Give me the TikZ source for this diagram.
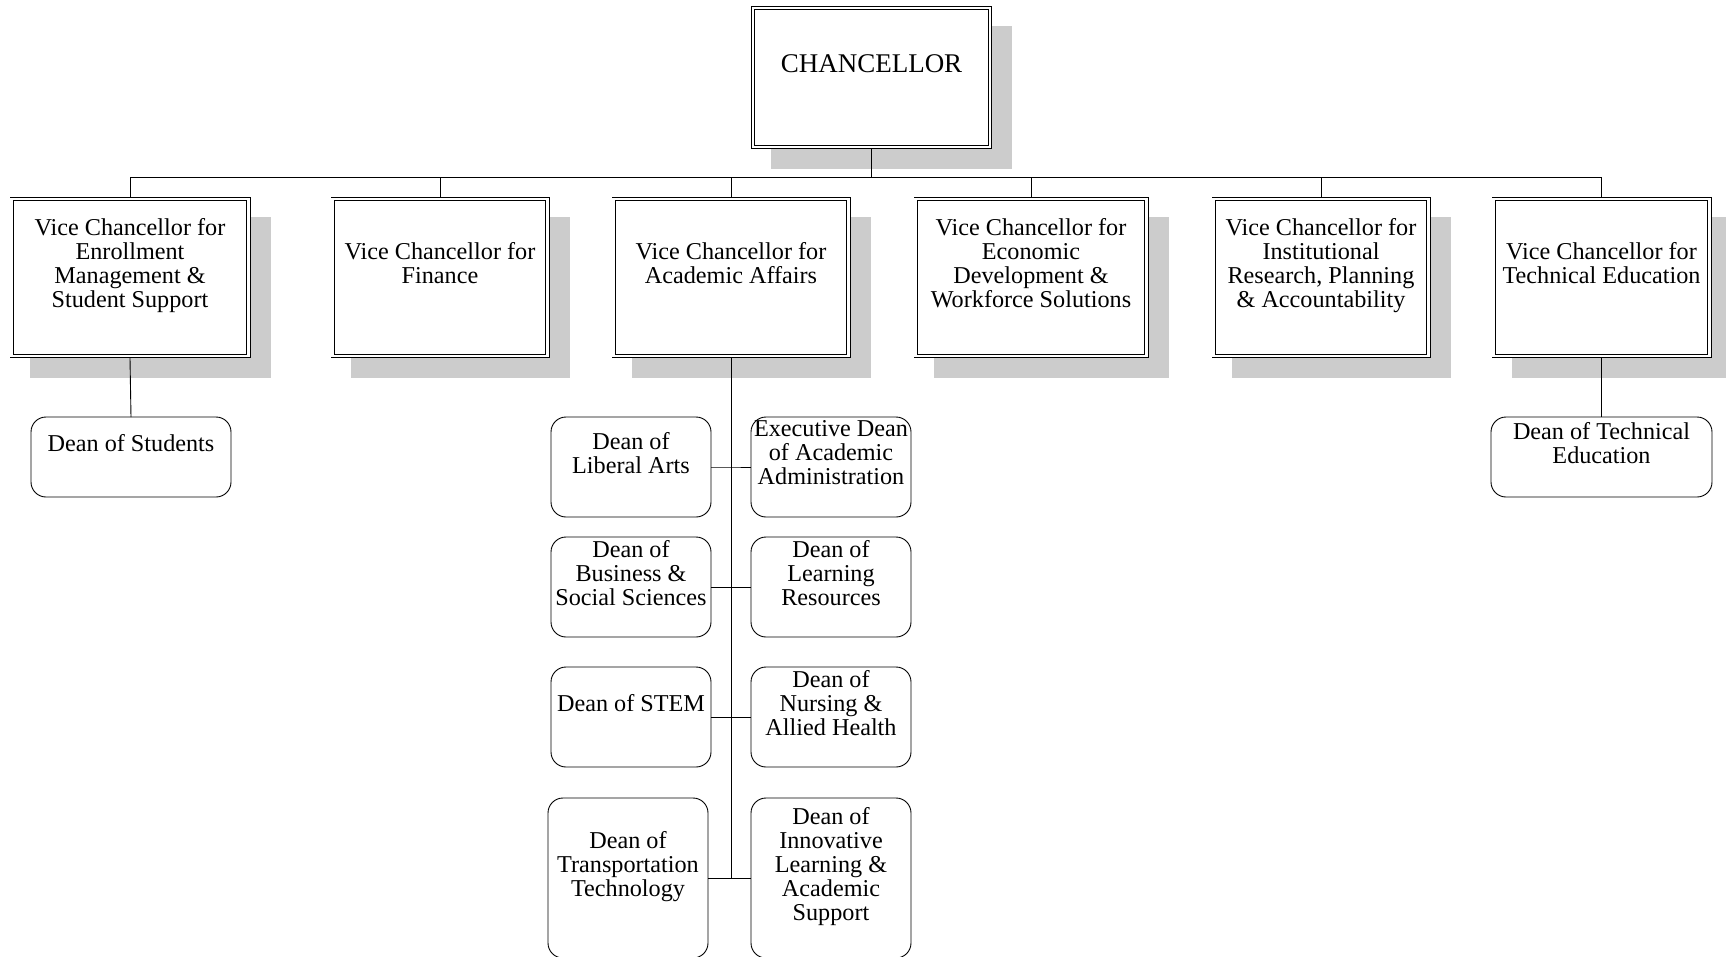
\documentclass[tikz,border=0pt]{standalone}
\usepackage{fontspec}
\setmainfont{Liberation Serif}
\usetikzlibrary{calc}
\definecolor{shadowgray}{gray}{0.8}
\tikzset{
  conn/.style={draw=black, line width=0.9pt},
  shadowrect/.style={rectangle, fill=shadowgray, draw=none, inner sep=0pt, outer sep=0pt},
  dblbox/.style={rectangle, draw=black, line width=0.8pt, double=white, double distance=2.6pt, fill=white, inner sep=0pt, outer sep=2.1pt},
  deanbox/.style={rectangle, rounded corners=15pt, draw=black, line width=0.9pt, fill=white, inner sep=0pt, outer sep=0pt},
  boxtext/.style={align=center, inner sep=0pt, font=\fontsize{24.2}{24}\selectfont, execute at begin node=\strut, execute at end node=\strut},
  chantext/.style={boxtext, font=\fontsize{27}{27}\selectfont},
}
% #1 name, #2 x, #3 y, #4 width, #5 height, #6 text style, #7 text
\newcommand\myvcbox[7]{%
  \node[shadowrect, minimum width=#4pt, minimum height=#5pt] (#1s) at (#2+20,#3+20) {};
  \node[dblbox, minimum width=#4pt-4.2pt, minimum height=#5pt-4.2pt] (#1) at (#2,#3) {};
  \node[#6] (#1t) at ([yshift=10.8pt]#1.center) {#7};
}
% #1 name, #2 x, #3 y, #4 width, #5 height, #6 text
\newcommand\mydean[6]{%
  \node[deanbox, minimum width=#4pt, minimum height=#5pt] (#1) at (#2,#3) {};
  \node[boxtext] (#1t) at ([yshift=10.8pt]#1.center) {#6};
}
\begin{document}
\begin{tikzpicture}[x=1pt,y=-1pt]
\path[use as bounding box, clip] (0,0) rectangle (1726,956);

\myvcbox{chan}{871.5}{77.5}{241}{143}{chantext}{CHANCELLOR}
\myvcbox{vc1}{130}{277.5}{241}{161}{boxtext}{Vice Chancellor for\\Enrollment\\Management \&\\Student Support}
\myvcbox{vc2}{440}{277.5}{219}{161}{boxtext}{Vice Chancellor for\\Finance}
\myvcbox{vc3}{731}{277.5}{239}{161}{boxtext}{Vice Chancellor for\\Academic Affairs}
\myvcbox{vc4}{1031}{277.5}{235}{161}{boxtext}{Vice Chancellor for\\Economic\\Development \&\\Workforce Solutions}
\myvcbox{vc5}{1321}{277.5}{219}{161}{boxtext}{Vice Chancellor for\\Institutional\\Research, Planning\\\& Accountability}
\myvcbox{vc6}{1601.5}{277.5}{220}{161}{boxtext}{Vice Chancellor for\\Technical Education}

\mydean{dos}{131}{457}{200}{80}{Dean of Students}
\mydean{dte}{1601.5}{457}{221}{80}{Dean of Technical\\Education}

\mydean{ld1}{631}{467}{160}{100}{Dean of\\Liberal Arts}
\mydean{rd1}{831}{467}{160}{100}{Executive Dean\\of Academic\\Administration}
\mydean{ld2}{631}{587}{160}{100}{Dean of\\Business \&\\Social Sciences}
\mydean{rd2}{831}{587}{160}{100}{Dean of\\Learning\\Resources}
\mydean{ld3}{631}{717}{160}{100}{Dean of STEM}
\mydean{rd3}{831}{717}{160}{100}{Dean of\\Nursing \&\\Allied Health}
\mydean{ld4}{628}{878}{160}{160}{Dean of\\Transportation\\Technology}
\mydean{rd4}{831}{878}{160}{160}{Dean of\\Innovative\\Learning \&\\Academic\\Support}

\coordinate (bus) at (871.5,177);
\draw[conn] (chan.south) -- (bus);
\foreach \v in {vc1,vc2,vc3,vc4,vc5,vc6} \draw[conn] (bus) -| (\v.north);

\draw[conn] (vc1.south) -- (dos.north);
\draw[conn] (vc6.south) -- (dte.north);

\coordinate (j1) at (vc3.south |- ld1.east);
\coordinate (j2) at (vc3.south |- ld2.east);
\coordinate (j3) at (vc3.south |- ld3.east);
\coordinate (j4) at (vc3.south |- ld4.east);
\draw[conn] (vc3.south) -- (j4);
\draw[conn] (ld1.east) -- (j1) -- (rd1.west);
\draw[conn] (ld2.east) -- (j2) -- (rd2.west);
\draw[conn] (ld3.east) -- (j3) -- (rd3.west);
\draw[conn] (ld4.east) -- (j4) -- (rd4.west);
\end{tikzpicture}
\end{document}
